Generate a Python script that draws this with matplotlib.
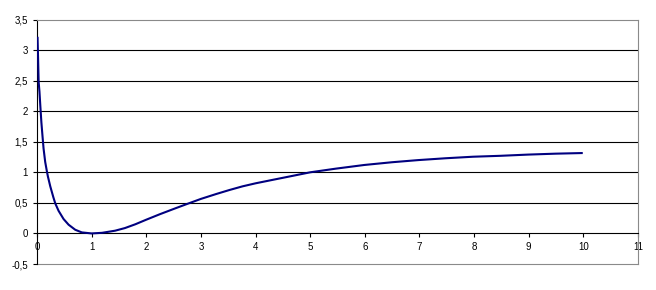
import matplotlib
matplotlib.use("Agg")
import matplotlib.pyplot as plt
from matplotlib.ticker import FuncFormatter

x_vals = [0.01, 0.02, 0.03, 0.045, 0.06, 0.08, 0.10, 0.12, 0.15, 0.18, 0.20,
          0.243, 0.30, 0.335, 0.395, 0.486, 0.578, 0.70, 0.82, 1.0, 1.19, 1.43,
          1.61, 1.80, 2.0, 2.25, 2.5, 2.74, 3.0, 3.28, 3.52, 3.76, 4.0, 4.36,
          4.5, 5.0, 5.47, 5.99, 6.5, 6.98, 7.48, 7.98, 8.48, 8.99, 9.49, 9.97]
y_vals = [3.20, 2.86, 2.48, 2.32, 2.10, 1.82, 1.60, 1.39, 1.17, 1.02, 0.93,
          0.77, 0.59, 0.49, 0.37, 0.236, 0.143, 0.06, 0.017, 0.0, 0.01, 0.045,
          0.088, 0.15, 0.225, 0.315, 0.40, 0.48, 0.565, 0.645, 0.71, 0.77, 0.82, 0.885,
          0.91, 1.0, 1.06, 1.12, 1.165, 1.20, 1.23, 1.255, 1.27, 1.29, 1.305, 1.315]

x_ticks = list(range(0, 12))
y_ticks = [-0.5, 0, 0.5, 1, 1.5, 2, 2.5, 3, 3.5]

plt.rcParams['font.family'] = ['Liberation Sans', 'DejaVu Sans']

fig = plt.figure(figsize=(6.56, 2.9), dpi=100)
ax = fig.add_axes([37/656, 1 - 264/290, 601/656, 244.5/290])
ax.set_xlim(0, 11)
ax.set_ylim(-0.5, 3.5)

for yv in y_ticks[2:-1]:
    ax.axhline(yv, color='black', lw=0.8, zorder=1)

ax.plot(x_vals, y_vals, color='#000080', lw=1.5, zorder=3)

for s in ['top', 'right']:
    ax.spines[s].set_color('#8a8a8a')
    ax.spines[s].set_linewidth(0.8)
ax.spines['bottom'].set_position(('data', 0))
ax.spines['bottom'].set_color('black')
ax.spines['bottom'].set_linewidth(0.8)
ax.spines['left'].set_color('black')
ax.spines['left'].set_linewidth(0.8)
ax.axhline(-0.5, color='#8a8a8a', lw=0.8, clip_on=False, zorder=2)

ax.set_xticks(x_ticks)
ax.set_yticks(y_ticks)
fmt = FuncFormatter(lambda v, p: ('%g' % v).replace('.', ','))
ax.xaxis.set_major_formatter(fmt)
ax.yaxis.set_major_formatter(fmt)
ax.tick_params(axis='both', direction='out', length=3, width=0.8, labelsize=7, colors='black')
ax.tick_params(axis='x', pad=3)
ax.tick_params(axis='y', pad=3.5)

fig.savefig('out.png', dpi=100)
